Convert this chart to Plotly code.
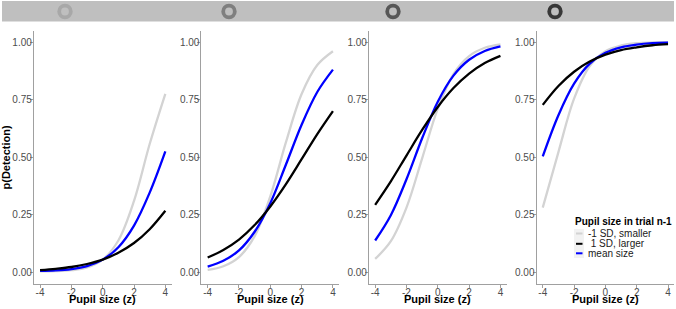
import plotly.graph_objects as go

# ---------------- data ----------------
x_vals = [-4, -3, -2, -1, 0, 1, 2, 3, 4]

# Panel 1
p1_smaller = [0.004, 0.005, 0.009, 0.021, 0.055, 0.138, 0.310, 0.557, 0.775]
p1_larger = [0.009, 0.015, 0.023, 0.036, 0.055, 0.085, 0.127, 0.187, 0.267]
p1_mean = [0.006, 0.008, 0.014, 0.027, 0.055, 0.109, 0.203, 0.346, 0.525]
# Panel 2
p2_smaller = [0.010, 0.026, 0.066, 0.157, 0.330, 0.565, 0.774, 0.900, 0.960]
p2_larger = [0.064, 0.097, 0.142, 0.205, 0.286, 0.383, 0.491, 0.600, 0.700]
p2_mean = [0.025, 0.050, 0.095, 0.176, 0.300, 0.468, 0.641, 0.783, 0.880]
# Panel 3
p3_smaller = [0.058, 0.135, 0.281, 0.495, 0.711, 0.861, 0.939, 0.975, 0.990]
p3_larger = [0.293, 0.395, 0.507, 0.618, 0.718, 0.800, 0.863, 0.909, 0.940]
p3_mean = [0.138, 0.248, 0.404, 0.582, 0.741, 0.854, 0.923, 0.961, 0.981]
# Panel 4
p4_smaller = [0.281, 0.522, 0.754, 0.896, 0.960, 0.985, 0.995, 0.998, 0.999]
p4_larger = [0.727, 0.809, 0.871, 0.915, 0.945, 0.965, 0.977, 0.986, 0.991]
p4_mean = [0.503, 0.682, 0.819, 0.906, 0.953, 0.977, 0.989, 0.995, 0.997]

panels = [
    (p1_smaller, p1_larger, p1_mean),
    (p2_smaller, p2_larger, p2_mean),
    (p3_smaller, p3_larger, p3_mean),
    (p4_smaller, p4_larger, p4_mean),
]

series_names = ["-1 SD, smaller", "\u00a01 SD, larger", "mean size"]
series_colors = ["#d3d3d3", "#000000", "#0000ff"]
legend_title = "Pupil size in trial n-1"
x_title = "Pupil size (z)"
y_title = "p(Detection)"
x_ticks = [-4, -2, 0, 2, 4]
y_ticks = [0, 0.25, 0.5, 0.75, 1.0]
y_ticklabels = ["0.00", "0.25", "0.50", "0.75", "1.00"]
ring_colors = ["#a8a8a8", "#7f7f7f", "#575757", "#383838"]

# ---------------- layout geometry (pixels) ----------------
W, H = 676, 309
FONT = "Liberation Sans, Arial, sans-serif"
panel_left = [33.8, 201.4, 368.9, 536.5]
panel_w = 137.8
plot_top, plot_bot = 30.5, 283.8


def px(x):
    return x / W


def py(y):
    return 1 - y / H


fig = go.Figure()
draw_order = [0, 2, 1]  # smaller, mean, larger (larger on top)
for i, (sm, lg, mn) in enumerate(panels):
    data = [sm, lg, mn]
    xa = "x" if i == 0 else f"x{i+1}"
    ya = "y" if i == 0 else f"y{i+1}"
    for k in draw_order:
        fig.add_trace(go.Scatter(
            x=x_vals, y=data[k], mode="lines",
            line=dict(color=series_colors[k], width=2.3, shape="spline", smoothing=1.0),
            xaxis=xa, yaxis=ya, showlegend=False, hoverinfo="skip",
        ))

axis_common = dict(
    showline=True, linecolor="#a0a0a0", linewidth=1, showgrid=False, zeroline=False,
    ticks="outside", ticklen=3, tickcolor="#a0a0a0", tickwidth=1,
    tickfont=dict(family=FONT, size=10, color="#4d4d4d"),
)
layout = dict(
    width=W, height=H, margin=dict(l=0, r=0, t=0, b=0),
    paper_bgcolor="white", plot_bgcolor="white", showlegend=False,
)
for i in range(4):
    sx = "" if i == 0 else str(i + 1)
    layout[f"xaxis{sx}"] = dict(
        domain=[px(panel_left[i]), px(panel_left[i] + panel_w)],
        range=[-4.4, 4.4], tickvals=x_ticks, ticktext=[str(t) for t in x_ticks],
        anchor=f"y{sx}", ticklabelstandoff=-4, **axis_common,
    )
    layout[f"yaxis{sx}"] = dict(
        domain=[py(plot_bot), py(plot_top)],
        range=[-0.05, 1.05], tickvals=y_ticks, ticktext=y_ticklabels,
        anchor=f"x{sx}", ticklabelstandoff=-4, **axis_common,
    )
fig.update_layout(**layout)

shapes = []
annotations = []
# top banner with rings
shapes.append(dict(type="rect", xref="paper", yref="paper",
                   x0=px(2), x1=px(674), y0=py(21.5), y1=py(1),
                   fillcolor="#bfbfbf", line=dict(width=0), layer="below"))
ring_cx = [65, 229, 393, 555]
for cx, col in zip(ring_cx, ring_colors):
    r = 5.8
    shapes.append(dict(type="circle", xref="paper", yref="paper",
                       x0=px(cx - r), x1=px(cx + r), y0=py(11.5 + r), y1=py(11.5 - r),
                       line=dict(color=col, width=3.8), fillcolor="rgba(0,0,0,0)"))

# axis titles
for i in range(4):
    annotations.append(dict(xref="paper", yref="paper",
                            x=px(panel_left[i] + panel_w / 2), y=py(298.5),
                            text=f"<b>{x_title}</b>", showarrow=False,
                            xanchor="center", yanchor="middle",
                            font=dict(family=FONT, size=11, color="black")))
annotations.append(dict(xref="paper", yref="paper", x=px(5.5), y=py(157),
                        text=f"<b>{y_title}</b>", showarrow=False, textangle=-90,
                        xanchor="center", yanchor="middle",
                        font=dict(family=FONT, size=11, color="black")))

# manual legend
annotations.append(dict(xref="paper", yref="paper", x=px(573), y=py(221),
                        text=f"<b>{legend_title}</b>", showarrow=False,
                        xanchor="left", yanchor="middle",
                        font=dict(family=FONT, size=10, color="black")))
shapes.append(dict(type="rect", xref="paper", yref="paper",
                   x0=px(574), x1=px(584), y0=py(258), y1=py(229),
                   fillcolor="#f2f2f2", line=dict(width=0), layer="below"))
leg_y = [233.5, 243.8, 253.3]
for k in range(3):
    shapes.append(dict(type="line", xref="paper", yref="paper",
                       x0=px(576), x1=px(582.5), y0=py(leg_y[k]), y1=py(leg_y[k]),
                       line=dict(color=series_colors[k], width=2)))
    annotations.append(dict(xref="paper", yref="paper", x=px(586), y=py(leg_y[k]),
                            text=series_names[k], showarrow=False,
                            xanchor="left", yanchor="middle",
                            font=dict(family=FONT, size=10, color="#1a1a1a")))

fig.update_layout(shapes=shapes, annotations=annotations)
fig.write_html("out.html", config={"displayModeBar": False},
               post_script="document.body.style.margin='0';document.body.style.overflow='hidden';")
